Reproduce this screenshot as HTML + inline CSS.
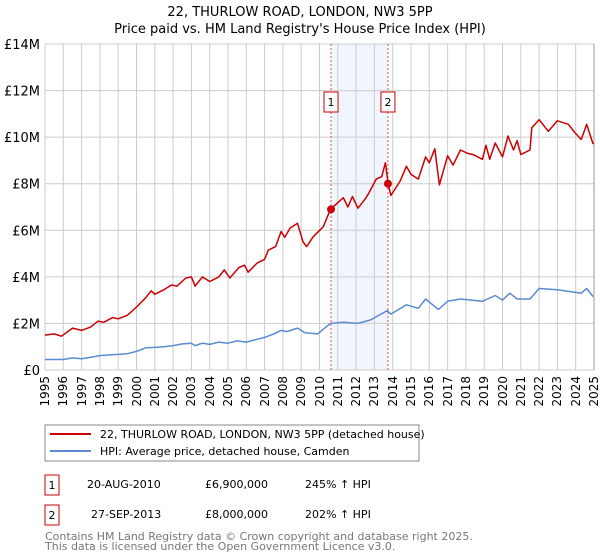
<!DOCTYPE html>
<html><head><meta charset="utf-8"><style>
body{margin:0;background:#fff;font-family:"Liberation Sans","DejaVu Sans",sans-serif;}
svg text{font-family:"DejaVu Sans","Liberation Sans",sans-serif;}
#wrap{position:relative;width:600px;height:560px;}
.xl{position:absolute;top:376px;width:14px;font-family:"DejaVu Sans","Liberation Sans",sans-serif;font-size:12px;line-height:14px;writing-mode:vertical-rl;transform:rotate(180deg);white-space:nowrap;color:#000;}
</style></head><body>
<div id="wrap">
<svg id="chart" width="600" height="560" style="position:absolute;left:0;top:0">
<text x="300" y="16" text-anchor="middle" font-size="13">22, THURLOW ROAD, LONDON, NW3 5PP</text>
<text x="300" y="33" text-anchor="middle" font-size="13">Price paid vs. HM Land Registry's House Price Index (HPI)</text>
<g id="grid"></g><g id="marks"></g><g id="axes"></g>
<rect x="45" y="425" width="374" height="36" fill="#fff" stroke="#888"/>
<line x1="50" y1="434" x2="91" y2="434" stroke="#cc0000" stroke-width="2"/>
<text x="100" y="438" font-size="11">22, THURLOW ROAD, LONDON, NW3 5PP (detached house)</text>
<line x1="50" y1="451" x2="91" y2="451" stroke="#5b8bd0" stroke-width="2"/>
<text x="100" y="455" font-size="11">HPI: Average price, detached house, Camden</text>
<rect x="45" y="475" width="14" height="20" fill="#fff" stroke="#cc0000"/>
<text x="52" y="489" font-size="11" text-anchor="middle">1</text>
<text x="87" y="488" font-size="11">20-AUG-2010</text>
<text x="205" y="488" font-size="11">£6,900,000</text>
<text x="305" y="488" font-size="11">245% ↑ HPI</text>
<rect x="45" y="505" width="14" height="20" fill="#fff" stroke="#cc0000"/>
<text x="52" y="519" font-size="11" text-anchor="middle">2</text>
<text x="91" y="518" font-size="11">27-SEP-2013</text>
<text x="205" y="518" font-size="11">£8,000,000</text>
<text x="305" y="518" font-size="11">202% ↑ HPI</text>
<text x="45" y="540" font-size="11" fill="#777">Contains HM Land Registry data © Crown copyright and database right 2025.</text>
<text x="45" y="550" font-size="11" fill="#777">This data is licensed under the Open Government Licence v3.0.</text>
</svg>
<div id="xlabels"></div>
</div>
<script>
const yTicks=[0,2,4,6,8,10,12,14];
const yTickLabels=["£0","£2M","£4M","£6M","£8M","£10M","£12M","£14M"];
const xYears=[1995,1996,1997,1998,1999,2000,2001,2002,2003,2004,2005,2006,2007,2008,2009,2010,2011,2012,2013,2014,2015,2016,2017,2018,2019,2020,2021,2022,2023,2024,2025];
const redT=[1995,1995.5,1995.9,1996.5,1997,1997.5,1997.9,1998.2,1998.7,1999,1999.5,2000,2000.5,2000.8,2001,2001.5,2001.9,2002.2,2002.7,2003,2003.2,2003.6,2004,2004.5,2004.8,2005.1,2005.6,2005.9,2006.1,2006.6,2007,2007.2,2007.6,2007.9,2008.1,2008.4,2008.8,2009.1,2009.3,2009.65,2010.2,2010.6,2011.3,2011.55,2011.8,2012.1,2012.5,2012.7,2013.1,2013.4,2013.6,2013.75,2013.9,2014.4,2014.75,2015,2015.4,2015.8,2016,2016.3,2016.55,2017,2017.3,2017.7,2018.1,2018.4,2018.9,2019.1,2019.3,2019.6,2020,2020.3,2020.6,2020.8,2021,2021.5,2021.6,2022,2022.5,2023,2023.6,2023.95,2024.3,2024.6,2024.95];
const redV=[1.5,1.55,1.45,1.8,1.7,1.85,2.1,2.05,2.25,2.2,2.35,2.7,3.1,3.4,3.25,3.45,3.65,3.6,3.95,4.0,3.6,4.0,3.8,4.0,4.3,3.95,4.4,4.5,4.2,4.6,4.75,5.15,5.3,5.95,5.7,6.1,6.3,5.5,5.3,5.72,6.15,6.9,7.4,7.0,7.45,6.95,7.35,7.6,8.2,8.3,8.9,8.0,7.5,8.1,8.75,8.4,8.2,9.15,8.9,9.5,7.95,9.2,8.8,9.45,9.3,9.25,9.05,9.65,9.05,9.75,9.15,10.05,9.45,9.85,9.25,9.45,10.4,10.75,10.25,10.7,10.55,10.2,9.9,10.55,9.7];
const blueT=[1995,1996,1996.5,1997,1997.5,1998,1998.5,1999,1999.5,2000,2000.5,2001,2001.5,2002,2002.5,2003,2003.2,2003.6,2004,2004.5,2005,2005.5,2006,2006.5,2007,2007.5,2007.9,2008.2,2008.8,2009.2,2009.9,2010.2,2010.6,2011.3,2012.1,2012.8,2013.7,2013.9,2014.75,2015.4,2015.8,2016.5,2017,2017.7,2018.9,2019.6,2020,2020.4,2020.8,2021.5,2022,2023,2024.3,2024.6,2024.95];
const blueV=[0.45,0.45,0.52,0.48,0.55,0.62,0.65,0.67,0.7,0.8,0.95,0.97,1.0,1.05,1.12,1.15,1.05,1.15,1.1,1.2,1.15,1.25,1.2,1.3,1.4,1.55,1.7,1.65,1.8,1.6,1.55,1.75,2.0,2.05,2.0,2.15,2.55,2.4,2.8,2.65,3.05,2.6,2.95,3.05,2.95,3.2,3.0,3.3,3.05,3.05,3.5,3.45,3.3,3.5,3.15];
const saleT=[2010.63,2013.74];
const saleV=[6.9,8.0];
const saleLabels=["1","2"];
const NS="http://www.w3.org/2000/svg";
const X0=45,X1=594,Y0=370,Y1=44;
const xs=t=>X0+(t-1995)/30*(X1-X0);
const ys=v=>Y0-v/14*(Y0-Y1);
function mk(tag,attrs,parent,txt){const e=document.createElementNS(NS,tag);for(const k in attrs)e.setAttribute(k,attrs[k]);if(txt!==undefined)e.textContent=txt;parent.appendChild(e);return e;}
const grid=document.getElementById('grid'),marks=document.getElementById('marks'),axes=document.getElementById('axes');
const xlab=document.getElementById('xlabels');
const shade=mk('rect',{x:xs(saleT[0]),y:Y1,width:xs(saleT[1])-xs(saleT[0]),height:Y0-Y1,fill:'#eef3fd',opacity:0.8},grid);


yTicks.forEach((v,i)=>{
 const l=mk('line',{x1:X0,x2:X1,y1:ys(v),y2:ys(v),stroke:'#ccc'},grid);
 
 
 const t=mk('text',{x:40,y:ys(v)+5,'text-anchor':'end','font-size':13},axes,yTickLabels[i]);
 
 
});
xYears.forEach(yr=>{
 const l=mk('line',{x1:xs(yr),x2:xs(yr),y1:Y1,y2:Y0,stroke:'#ccc'},grid);
 
 
 const d=document.createElement('div');
 d.className='xl';
 d.style.left=(xs(yr)-7).toFixed(1)+'px';
 d.textContent=String(yr);
 
 
 xlab.appendChild(d);
});
const edge=mk('line',{x1:X1,x2:X1,y1:Y1,y2:Y0,stroke:'#999'},grid);


saleT.forEach((t,i)=>{
 const l=mk('line',{x1:xs(t),x2:xs(t),y1:Y1,y2:Y0,stroke:'#e05050','stroke-dasharray':'2,2'},marks);
 
 
});
function path(T,V,color,name){
 const d=T.map((t,i)=>(i?'L':'M')+xs(t).toFixed(1)+','+ys(V[i]).toFixed(1)).join('');
 const p=mk('path',{d:d,fill:'none',stroke:color,'stroke-width':1.5,'stroke-linejoin':'round'},marks);
 
 
}
path(blueT,blueV,'#5b8bd0','hpi-line');
path(redT,redV,'#cc0000','property-line');
saleT.forEach((t,i)=>{
 const c=mk('circle',{cx:xs(t),cy:ys(saleV[i]),r:4,fill:'#cc0000'},marks);
 
 
 const r=mk('rect',{x:xs(t)-7,y:92,width:14,height:20,fill:'#fff',stroke:'#cc0000'},marks);
 
 
 const tx=mk('text',{x:xs(t),y:106,'text-anchor':'middle','font-size':11},marks,saleLabels[i]);
 
 
});
</script>
</body></html>
